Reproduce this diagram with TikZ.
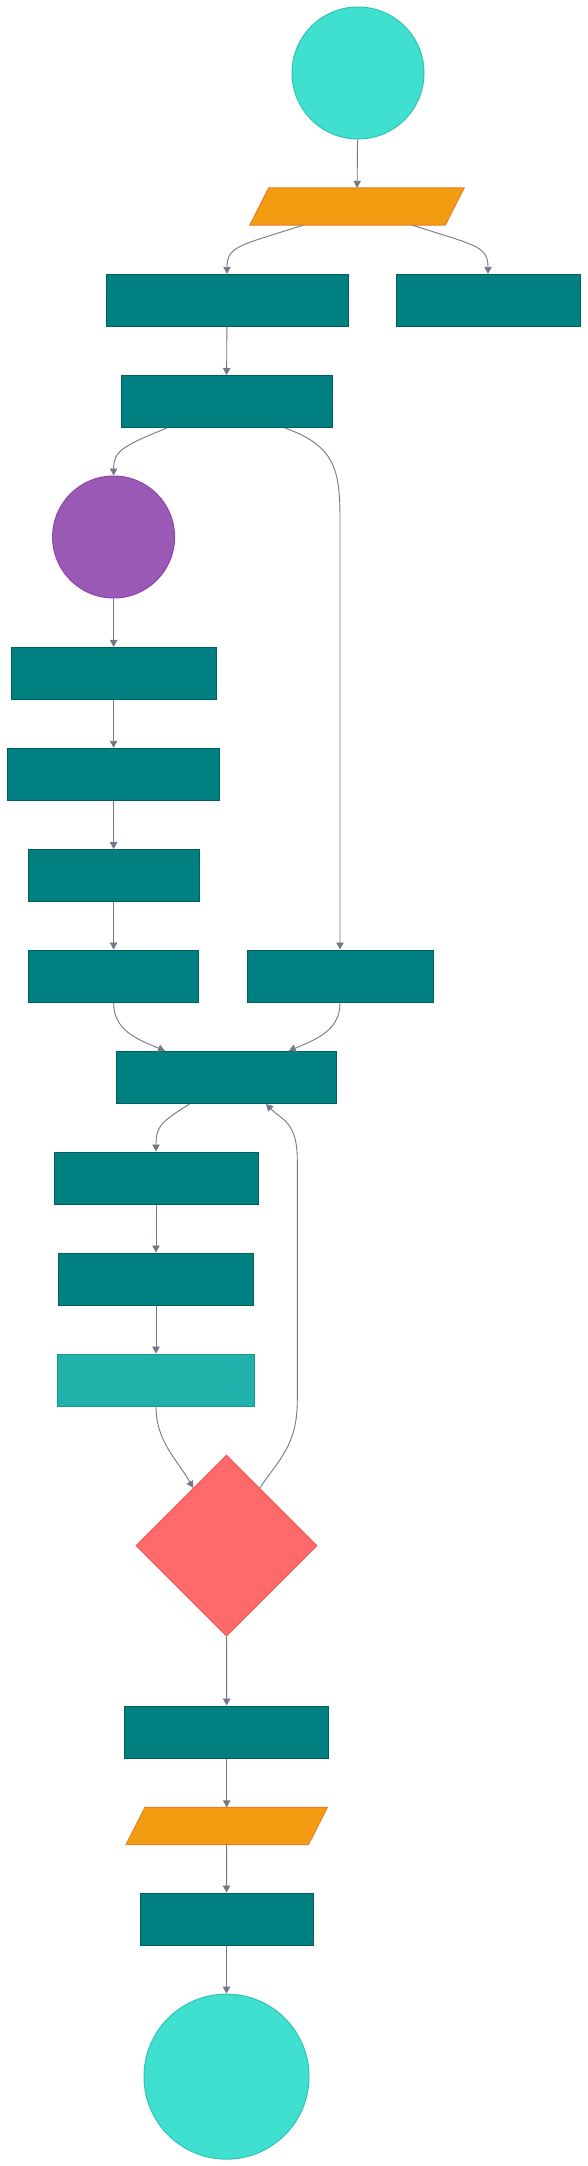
\documentclass[tikz,border=0pt]{standalone}
\usepackage{xcolor}
\usepackage{tikz}
\usetikzlibrary{arrows.meta,shapes.geometric}

\definecolor{turq}{HTML}{40E0D0}
\definecolor{turqline}{HTML}{2EC4B4}
\definecolor{tealfill}{HTML}{008080}
\definecolor{tealline}{HTML}{006060}
\definecolor{seafill}{HTML}{20B2AA}
\definecolor{sealine}{HTML}{18968F}
\definecolor{purplefill}{HTML}{9B59B6}
\definecolor{purpleline}{HTML}{8E44AD}
\definecolor{orangefill}{HTML}{F39C12}
\definecolor{orangeline}{HTML}{E67E22}
\definecolor{redfill}{HTML}{FF6B6B}
\definecolor{redline}{HTML}{E85A5A}
\definecolor{linkgray}{HTML}{737887}

\tikzset{
    terminal/.style={circle, draw=turqline, fill=turq, line width=1pt, inner sep=0pt},
    process/.style={rectangle, draw=tealline, fill=tealfill, line width=1pt, inner sep=0pt, minimum height=52pt},
    lightprocess/.style={process, draw=sealine, fill=seafill},
    event/.style={circle, draw=purpleline, fill=purplefill, line width=1pt, inner sep=0pt},
    data/.style={rectangle, inner sep=0pt, minimum height=37pt},
    dataedge/.style={draw=orangeline, fill=orangefill, line width=1pt, line join=miter},
    choice/.style={diamond, draw=redline, fill=redfill, line width=1pt, inner sep=0pt, aspect=1},
    link/.style={draw=linkgray, line width=0.9pt, -{Triangle[length=7pt,width=7.5pt]}}
}

\begin{document}
\begin{tikzpicture}[x=1pt,y=-1pt]
    \useasboundingbox (0,0) rectangle (588,2166);

    \node [terminal, minimum size=132pt] (start) at (358,73) {};
    \node [data, minimum width=195pt] (input) at (357,206.5) {};
    \node [process, minimum width=242pt] (load) at (227,300.3) {};
    \node [process, minimum width=184pt] (skip) at (488,300.3) {};
    \node [process, minimum width=211pt] (check) at (226.5,401.5) {};
    \node [event, minimum size=122pt] (wait) at (113.6,537) {};
    \node [process, minimum width=205pt] (fetch) at (113.6,673.4) {};
    \node [process, minimum width=212pt] (parse) at (113.6,774.3) {};
    \node [process, minimum width=171pt] (clean) at (113.6,875.5) {};
    \node [process, minimum width=170pt] (store) at (113.6,976) {};
    \node [process, minimum width=186pt] (cache) at (340,976) {};
    \node [process, minimum width=220pt] (merge) at (226.7,1077.5) {};
    \node [process, minimum width=204pt] (split) at (156,1178) {};
    \node [process, minimum width=195pt] (apply) at (156,1279) {};
    \node [lightprocess, minimum width=197pt] (score) at (156,1380) {};
    \node [choice, minimum size=181pt] (done) at (226.6,1545.6) {};
    \node [process, minimum width=204pt] (report) at (226.7,1732) {};
    \node [data, minimum width=182pt] (output) at (226.7,1826) {};
    \node [process, minimum width=173pt] (close) at (226.5,1919) {};
    \node [terminal, minimum size=165pt] (finish) at (226.5,2076.6) {};

    \foreach \n in {input,output}
        \filldraw [dataedge] ([xshift=-9.5pt]\n.south west) -- ([xshift=9.5pt]\n.north west)
            -- ([xshift=9.5pt]\n.north east) -- ([xshift=-9.5pt]\n.south east) -- cycle;

    \coordinate (loopa) at (297.3,1400);
    \coordinate (loopb) at (297.3,1160);

    \draw [link] (start) -- (input);
    \draw [link] ([xshift=-54pt]input.south) .. controls +(-62,20) and +(0,-28) .. (load.north);
    \draw [link] ([xshift=55.5pt]input.south) .. controls +(62,20) and +(0,-28) .. (skip.north);
    \draw [link] (load) -- (check);
    \draw [link] ([xshift=-59.5pt]check.south) .. controls +(-45,18) and +(0,-24) .. (wait.north);
    \draw [link] ([xshift=58.5pt]check.south) .. controls +(50,18) and +(0,-50) .. ([yshift=430pt]cache.north) -- (cache.north);
    \draw [link] (wait) -- (fetch);
    \draw [link] (fetch) -- (parse);
    \draw [link] (parse) -- (clean);
    \draw [link] (clean) -- (store);
    \draw [link] (store.south) .. controls +(0,28) and +(-28,-12) .. ([xshift=-61.7pt]merge.north);
    \draw [link] (cache.south) .. controls +(0,28) and +(28,-12) .. ([xshift=62pt]merge.north);
    \draw [link] ([xshift=-37.3pt]merge.south) .. controls +(-28,18) and +(0,-26) .. (split.north);
    \draw [link] (split) -- (apply);
    \draw [link] (apply) -- (score);
    \draw [link] (score.south) .. controls +(0,35) and +(-16,-28) .. (done.120);
    \draw [link] (done.60) .. controls +(20,-30) and +(0,45) .. (loopa) -- (loopb) .. controls +(0,-38) and +(16,16) .. ([xshift=39.3pt]merge.south);
    \draw [link] (done) -- (report);
    \draw [link] (report) -- (output);
    \draw [link] (output) -- (close);
    \draw [link] (close) -- (finish);
\end{tikzpicture}
\end{document}
